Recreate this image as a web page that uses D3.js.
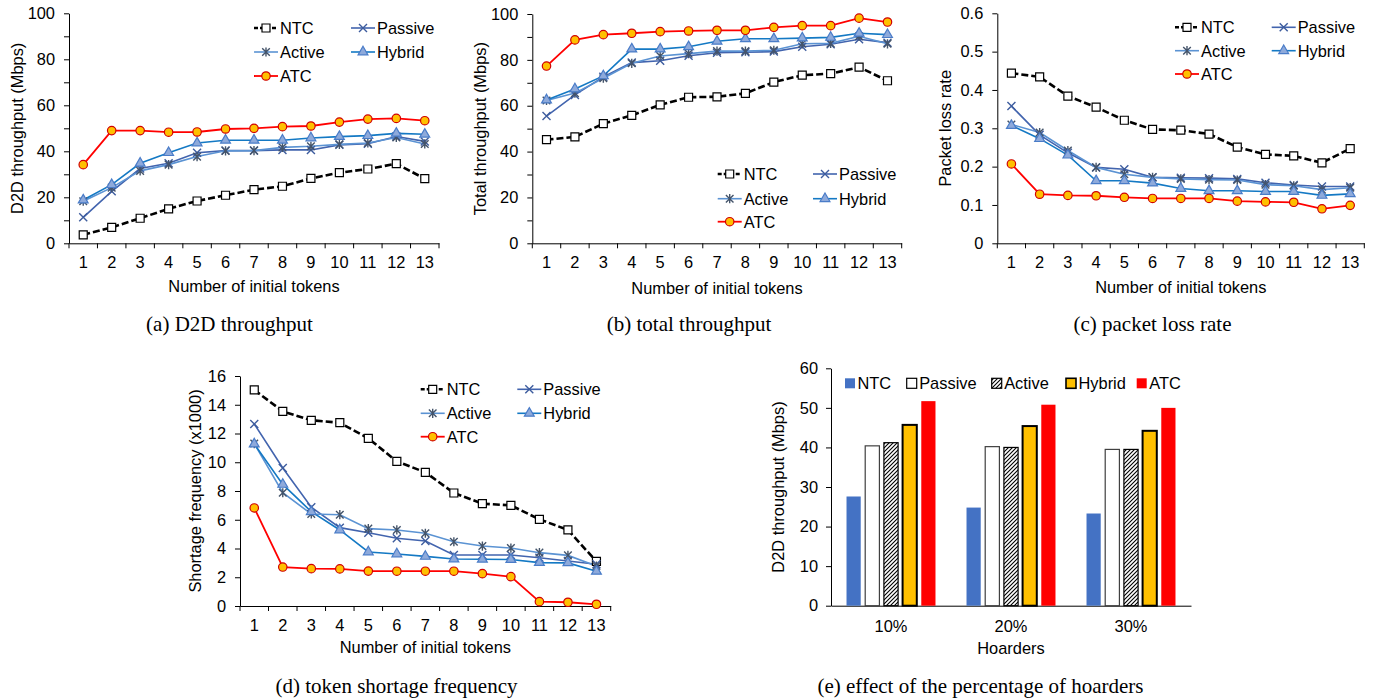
<!DOCTYPE html>
<html><head><meta charset="utf-8">
<script src="https://cdn.jsdelivr.net/npm/d3@7"></script>
<style>
body{margin:0;background:#fff}
svg{display:block}
text{font-family:Arial,"Liberation Sans",sans-serif;fill:#000}
.cap{font-family:"Liberation Serif","Times New Roman",serif}
</style>
</head><body>
<svg id="c" width="1379" height="698"></svg>
<script>
// ---------- data ----------
const tokens = ["1","2","3","4","5","6","7","8","9","10","11","12","13"];
const seriesNames = ["NTC","Passive","Active","Hybrid","ATC"];

// (a) D2D throughput (Mbps)
const d2dNTC     = [3.7, 6.9, 10.9, 15.0, 18.4, 20.9, 23.3, 24.8, 28.2, 30.7, 32.3, 34.6, 28.1];
const d2dPassive = [11.3, 22.6, 32.5, 34.8, 39.4, 40.3, 40.3, 40.6, 40.6, 42.8, 43.3, 46.4, 44.3];
const d2dActive  = [18.3, 24.2, 31.5, 34.2, 37.7, 40.2, 40.3, 41.7, 42.2, 43.0, 43.6, 46.0, 43.2];
const d2dHybrid  = [18.8, 25.5, 34.8, 39.4, 43.6, 44.8, 44.8, 44.8, 45.8, 46.4, 46.8, 47.8, 47.4];
const d2dATC     = [34.2, 49.0, 49.0, 48.3, 48.4, 49.7, 50.0, 50.7, 51.0, 52.7, 54.0, 54.3, 53.3];

// (b) total throughput (Mbps)
const totNTC     = [45.2, 46.4, 52.2, 55.8, 60.4, 63.7, 63.9, 65.4, 70.3, 73.3, 74.0, 76.8, 70.9];
const totPassive = [55.5, 64.7, 72.6, 78.8, 79.6, 81.8, 83.1, 83.3, 83.6, 85.7, 86.8, 89.0, 87.5];
const totActive  = [62.3, 65.5, 72.0, 78.5, 81.7, 82.7, 83.8, 83.8, 84.2, 87.0, 87.2, 90.3, 87.0];
const totHybrid  = [62.5, 67.3, 73.0, 84.7, 84.7, 85.7, 88.1, 89.2, 89.2, 89.5, 89.8, 91.6, 91.0];
const totATC     = [77.3, 88.7, 91.0, 91.6, 92.3, 92.6, 92.9, 92.9, 94.2, 94.9, 94.9, 98.2, 96.5];

// (c) packet loss rate
const lossNTC     = [0.444, 0.434, 0.384, 0.355, 0.321, 0.297, 0.295, 0.285, 0.251, 0.232, 0.228, 0.210, 0.247];
const lossPassive = [0.358, 0.283, 0.236, 0.198, 0.193, 0.172, 0.171, 0.170, 0.168, 0.158, 0.152, 0.148, 0.148];
const lossActive  = [0.310, 0.289, 0.242, 0.198, 0.180, 0.172, 0.168, 0.166, 0.165, 0.153, 0.150, 0.140, 0.145];
const lossHybrid  = [0.307, 0.273, 0.230, 0.163, 0.163, 0.157, 0.143, 0.137, 0.137, 0.135, 0.135, 0.125, 0.129];
const lossATC     = [0.207, 0.128, 0.125, 0.124, 0.120, 0.117, 0.117, 0.117, 0.110, 0.108, 0.107, 0.090, 0.099];

// (d) shortage frequency (x1000)
const shortNTC     = [15.03, 13.54, 12.92, 12.75, 11.66, 10.06, 9.30, 7.86, 7.12, 7.00, 6.03, 5.29, 3.10];
const shortPassive = [12.66, 9.60, 6.87, 5.45, 5.10, 4.71, 4.52, 3.55, 3.55, 3.55, 3.36, 3.13, 2.90];
const shortActive  = [11.30, 7.88, 6.40, 6.35, 5.38, 5.29, 5.06, 4.47, 4.17, 4.03, 3.71, 3.52, 2.78];
const shortHybrid  = [11.27, 8.46, 6.56, 5.29, 3.76, 3.62, 3.45, 3.27, 3.25, 3.23, 3.02, 3.00, 2.41];
const shortATC     = [6.82, 2.71, 2.60, 2.58, 2.43, 2.42, 2.42, 2.42, 2.25, 2.04, 0.30, 0.26, 0.12];

// (e) hoarders
const hoarderLevels = ["10%","20%","30%"];
const hoardNTC     = [27.6, 24.8, 23.3];
const hoardPassive = [40.4, 40.2, 39.5];
const hoardActive  = [41.2, 40.0, 39.5];
const hoardHybrid  = [45.7, 45.4, 44.2];
const hoardATC     = [51.7, 50.8, 50.0];

// tick labels
const ticksA = [0,20,40,60,80,100];
const ticksC = [0,0.1,0.2,0.3,0.4,0.5,0.6];
const ticksD = [0,2,4,6,8,10,12,14,16];
const ticksE = [0,10,20,30,40,50,60];

// ---------- styles ----------
const FS = 16.4;
const style = {
  NTC:     {stroke:"#000", width:2.6, dash:"7,3", sym:"square", fill:"#fff", mstroke:"#000"},
  Passive: {stroke:"#4264AE", width:1.6, dash:null, sym:"x", fill:"none", mstroke:"#3D5C9E"},
  Active:  {stroke:"#5B93D3", width:1.6, dash:null, sym:"star", fill:"none", mstroke:"#44546A"},
  Hybrid:  {stroke:"#1479C4", width:1.6, dash:null, sym:"tri", fill:"#8EAADB", mstroke:"#4A7CC8"},
  ATC:     {stroke:"#FF0000", width:1.8, dash:null, sym:"circle", fill:"#FFC000", mstroke:"#D00000"}
};
function symPath(s){
  if(s==="square") return d3.symbol(d3.symbolSquare, 64)();
  if(s==="circle") return d3.symbol(d3.symbolCircle, 56)();
  if(s==="tri") return d3.symbol(d3.symbolTriangle, 42)();
  if(s==="x") return "M-4,-4L4,4M-4,4L4,-4";
  if(s==="star") return "M-3.8,-3.8L3.8,3.8M-3.8,3.8L3.8,-3.8M0,-4.6L0,4.6";
}
function drawMarker(g, name, cx, cy){
  const st = style[name];
  g.append("path").attr("d", symPath(st.sym))
    .attr("transform", `translate(${cx},${cy})`)
    .attr("fill", st.fill).attr("stroke", st.mstroke)
    .attr("stroke-width", st.sym==="x"||st.sym==="star" ? 1.4 : 1.2);
}

const svg = d3.select("#c");

function linePanel(p){
  const g = svg.append("g");
  const x = d3.scaleBand().domain(tokens).range([p.left, p.right]);
  const y = d3.scaleLinear().domain([0, p.ymax]).range([p.bottom, p.top]);
  const allTicks = p.minor ? d3.range(0, p.ymax + 1e-9, p.minor) : p.ticks;
  const yAxis = d3.axisLeft(y).tickValues(allTicks).tickSize(5).tickSizeOuter(0).tickPadding(9)
    .tickFormat(v => p.ticks.some(t => Math.abs(t - v) < 1e-9) ? p.fmt(v) : "");
  const ya = g.append("g").attr("transform", `translate(${p.left},0)`).call(yAxis);
  const xAxis = d3.axisBottom(x).tickSize(0).tickSizeOuter(0).tickPadding(13);
  const xa = g.append("g").attr("transform", `translate(0,${p.bottom})`).call(xAxis);
  [ya, xa].forEach(a => {
    a.selectAll("text").attr("font-size", FS).attr("fill", "#000").attr("font-family", "Arial, 'Liberation Sans', sans-serif");
    a.selectAll("line,path").attr("stroke", "#000");
  });
  const bounds = tokens.map(t => x(t)).concat([p.right]);
  g.append("g").selectAll("line").data(bounds).join("line")
    .attr("x1", d => d).attr("x2", d => d).attr("y1", p.bottom).attr("y2", p.bottom + 5)
    .attr("stroke", "#000");
  // titles
  g.append("text").attr("x", (p.left + p.right) / 2).attr("y", p.xTitleY)
    .attr("text-anchor", "middle").attr("dominant-baseline", "central").attr("font-size", FS)
    .text("Number of initial tokens");
  g.append("text").attr("transform", `translate(${p.yTitleX},${(p.top + p.bottom) / 2}) rotate(-90)`)
    .attr("text-anchor", "middle").attr("dominant-baseline", "central").attr("font-size", FS)
    .text(p.yTitle);
  const line = d3.line().x((d, i) => x(tokens[i]) + x.bandwidth() / 2).y(d => y(d));
  seriesNames.forEach(n => {
    const st = style[n];
    g.append("path").datum(p.data[n]).attr("d", line).attr("fill", "none")
      .attr("stroke", st.stroke).attr("stroke-width", st.width)
      .attr("stroke-dasharray", st.dash);
  });
  seriesNames.forEach(n => {
    p.data[n].forEach((v, i) => drawMarker(g, n, x(tokens[i]) + x.bandwidth() / 2, y(v)));
  });
  // legend
  const pos = {NTC:[0,0], Passive:[1,0], Active:[0,1], Hybrid:[1,1], ATC:[0,2]};
  seriesNames.forEach(n => {
    const [c, r] = pos[n];
    const lx = p.legCols[c], ly = p.legRows[r], st = style[n];
    g.append("line").attr("x1", lx).attr("x2", lx + 24).attr("y1", ly).attr("y2", ly)
      .attr("stroke", st.stroke).attr("stroke-width", st.width).attr("stroke-dasharray", n === "NTC" ? "4,2" : null);
    drawMarker(g, n, lx + 12, ly);
    g.append("text").attr("x", lx + 26).attr("y", ly).attr("dominant-baseline", "central")
      .attr("font-size", FS).text(n);
  });
}

const fmtInt = d3.format("d");
const fmtDec = v => v === 0 ? "0" : d3.format(".1f")(v);

linePanel({left:69, right:439, top:13.3, bottom:243.3, ymax:100, ticks:ticksA, minor:10, fmt:fmtInt,
  yTitle:"D2D throughput (Mbps)", yTitleX:17, xTitleY:286,
  legCols:[254, 351], legRows:[28, 52, 76],
  data:{NTC:d2dNTC, Passive:d2dPassive, Active:d2dActive, Hybrid:d2dHybrid, ATC:d2dATC}});

linePanel({left:532.3, right:901.7, top:14, bottom:243.3, ymax:100, ticks:ticksA, minor:10, fmt:fmtInt,
  yTitle:"Total throughput (Mbps)", yTitleX:479.5, xTitleY:288,
  legCols:[717.7, 813], legRows:[174, 198.7, 221.7],
  data:{NTC:totNTC, Passive:totPassive, Active:totActive, Hybrid:totHybrid, ATC:totATC}});

linePanel({left:997.3, right:1364.3, top:13.3, bottom:243.3, ymax:0.6, ticks:ticksC, minor:null, fmt:fmtDec,
  yTitle:"Packet loss rate", yTitleX:945, xTitleY:286.7,
  legCols:[1175, 1271.7], legRows:[27.3, 50.7, 74],
  data:{NTC:lossNTC, Passive:lossPassive, Active:lossActive, Hybrid:lossHybrid, ATC:lossATC}});

linePanel({left:240, right:610.7, top:376, bottom:606, ymax:16, ticks:ticksD, minor:null, fmt:fmtInt,
  yTitle:"Shortage frequency (x1000)", yTitleX:195, xTitleY:647.3,
  legCols:[420.7, 517.3], legRows:[389.3, 413.3, 436.7],
  data:{NTC:shortNTC, Passive:shortPassive, Active:shortActive, Hybrid:shortHybrid, ATC:shortATC}});

// ---------- (e) bar chart ----------
(function(){
  const left = 831, right = 1191, top = 368.3, bottom = 605.7;
  const g = svg.append("g");
  const defs = svg.append("defs");
  const pat = defs.append("pattern").attr("id", "hatch").attr("patternUnits", "userSpaceOnUse")
    .attr("width", 4).attr("height", 4);
  pat.append("rect").attr("width", 4).attr("height", 4).attr("fill", "#fff");
  pat.append("path").attr("d", "M-1,1L1,-1M0,4L4,0M3,5L5,3").attr("stroke", "#000").attr("stroke-width", 1.1);
  const barStyle = {
    NTC:{fill:"#4472C4", stroke:"none", sw:0},
    Passive:{fill:"#fff", stroke:"#404040", sw:1.2},
    Active:{fill:"url(#hatch)", stroke:"#000", sw:1.2},
    Hybrid:{fill:"#FFC000", stroke:"#000", sw:2},
    ATC:{fill:"#FF0000", stroke:"none", sw:0}
  };
  const vals = {NTC:hoardNTC, Passive:hoardPassive, Active:hoardActive, Hybrid:hoardHybrid, ATC:hoardATC};
  const x0 = d3.scaleBand().domain(hoarderLevels).range([left, right]);
  const x1 = d3.scaleBand().domain(seriesNames).range([0, x0.bandwidth()]).paddingInner(0.24).paddingOuter(0.83);
  const y = d3.scaleLinear().domain([0, 60]).range([bottom, top]);
  const ya = g.append("g").attr("transform", `translate(${left},0)`)
    .call(d3.axisLeft(y).tickValues(ticksE).tickSize(5).tickSizeOuter(0).tickPadding(8).tickFormat(d3.format("d")));
  const xa = g.append("g").attr("transform", `translate(0,${bottom})`)
    .call(d3.axisBottom(x0).tickSize(0).tickSizeOuter(0).tickPadding(15));
  [ya, xa].forEach(a => {
    a.selectAll("text").attr("font-size", FS).attr("fill", "#000").attr("font-family", "Arial, 'Liberation Sans', sans-serif");
    a.selectAll("line,path").attr("stroke", "#000");
  });
  hoarderLevels.forEach((h, i) => {
    seriesNames.forEach(n => {
      const bs = barStyle[n];
      const v = vals[n][i];
      g.append("rect").attr("x", x0(h) + x1(n)).attr("width", x1.bandwidth())
        .attr("y", y(v)).attr("height", bottom - y(v))
        .attr("fill", bs.fill).attr("stroke", bs.stroke).attr("stroke-width", bs.sw);
    });
  });
  g.append("text").attr("x", (left + right) / 2).attr("y", 647.7).attr("text-anchor", "middle")
    .attr("dominant-baseline", "central").attr("font-size", FS).text("Hoarders");
  g.append("text").attr("transform", `translate(777.5,${(top + bottom) / 2}) rotate(-90)`)
    .attr("text-anchor", "middle").attr("dominant-baseline", "central").attr("font-size", FS)
    .text("D2D throughput (Mbps)");
  const legX = {NTC:845, Passive:906.7, Active:991.7, Hybrid:1066, ATC:1136.7};
  seriesNames.forEach(n => {
    const bs = barStyle[n];
    g.append("rect").attr("x", legX[n]).attr("y", 378.3).attr("width", 10).attr("height", 10)
      .attr("fill", bs.fill).attr("stroke", bs.stroke === "none" ? "none" : "#000").attr("stroke-width", bs.sw ? Math.min(bs.sw, 1.6) : 0);
    g.append("text").attr("x", legX[n] + 12.5).attr("y", 383.3).attr("dominant-baseline", "central")
      .attr("font-size", FS).text(n);
  });
})();

// ---------- captions ----------
const captions = [
  {t:"(a) D2D throughput", x:229.5, y:331},
  {t:"(b) total throughput", x:689, y:331},
  {t:"(c) packet loss rate", x:1152.5, y:331},
  {t:"(d) token shortage frequency", x:396.5, y:693},
  {t:"(e) effect of the percentage of hoarders", x:980.5, y:693}
];
svg.append("g").selectAll("text").data(captions).join("text").attr("class", "cap")
  .attr("x", d => d.x).attr("y", d => d.y).attr("text-anchor", "middle")
  .attr("font-size", 21).text(d => d.t);
</script>
</body></html>
